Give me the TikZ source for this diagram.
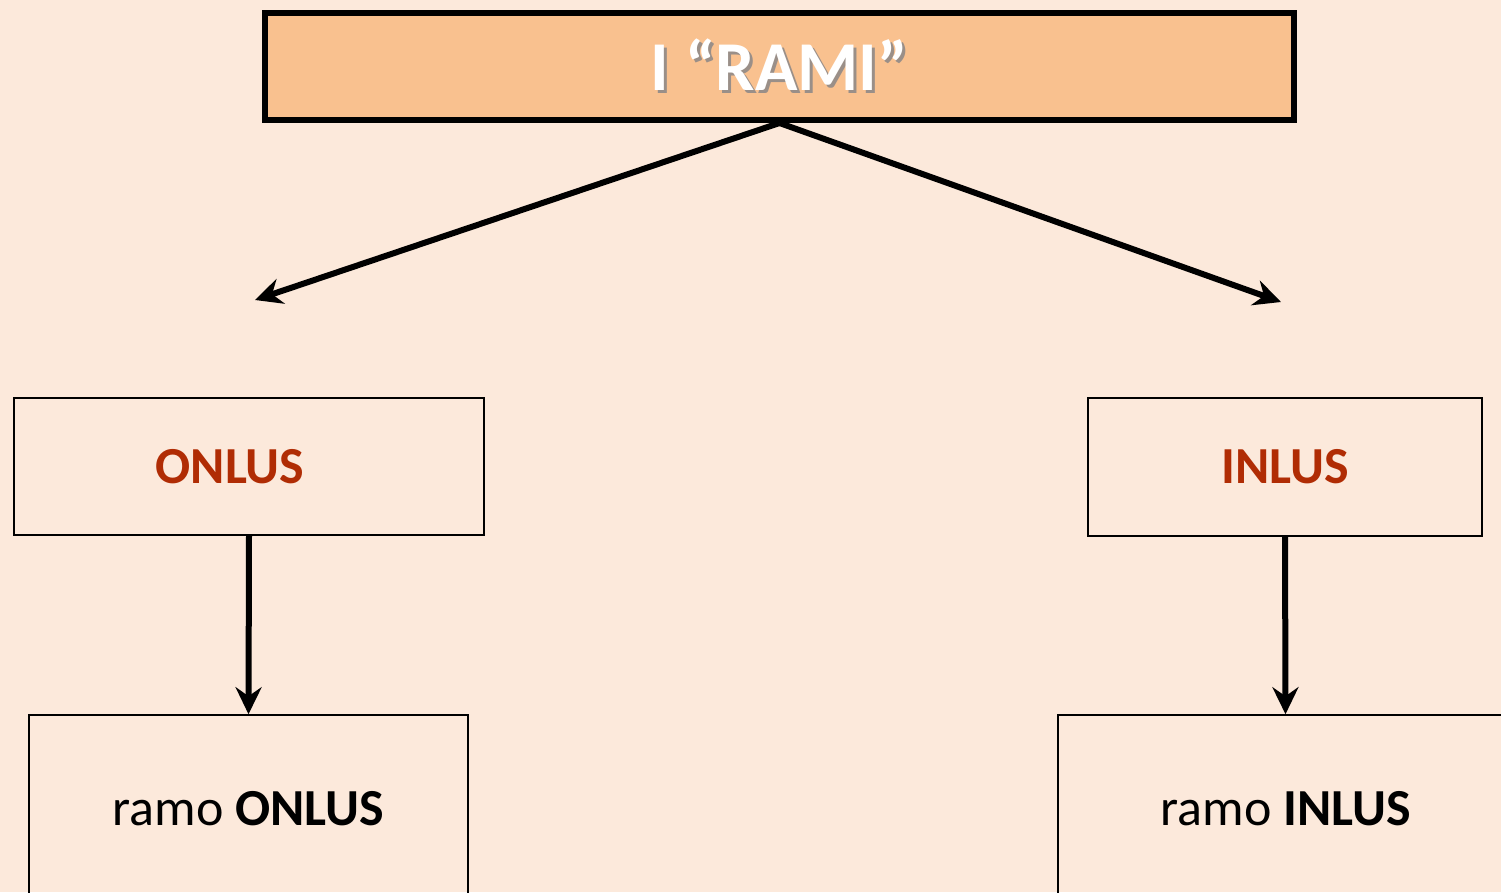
\documentclass[tikz,border=0pt]{standalone}
\usepackage{fontspec}
\setmainfont{Carlito}
\usetikzlibrary{arrows.meta}
\definecolor{pagebg}{HTML}{FCE9DB}
\definecolor{titlefill}{HTML}{F9C18F}
\definecolor{brickred}{HTML}{B02C04}
\definecolor{shadowgrey}{HTML}{9A8F88}
\tikzset{
  titlebox/.style={draw=black, line width=6pt, fill=titlefill, minimum width=1029pt, minimum height=107pt, inner sep=0pt},
  catbox/.style={draw=black, line width=1.6pt, inner sep=0pt, text=brickred, font=\fontsize{52}{60}\selectfont\bfseries},
  branchbox/.style={draw=black, line width=1.6pt, inner sep=0pt, font=\fontsize{52}{60}\selectfont},
  link/.style={line width=6pt, -{Stealth[length=27pt, width=26pt, inset=9pt]}},
}
% white lettering with a soft grey drop shadow
\newcommand{\shadowed}[1]{\makebox[0pt][l]{\kern3pt\raisebox{-3pt}{\color{shadowgrey}#1}}#1}
\begin{document}
\begin{tikzpicture}[x=1pt, y=-1pt]
  \useasboundingbox[fill=pagebg] (0,0) rectangle (1501,892);
  % title bar
  \node[titlebox, text=white, font=\fontsize{70}{80}\selectfont\bfseries] (title) at (779.5,66.5)
    {\raisebox{3pt}{\shadowed{I “RAMI”}}};
  % the two categories
  \node[catbox, minimum width=470pt, minimum height=137pt] (onlus) at (249,466.5) {\hspace*{-38pt}ONLUS};
  \node[catbox, minimum width=394pt, minimum height=138pt] (inlus) at (1285,467) {INLUS};
  % the branch boxes, running off the lower edge
  \node[branchbox, minimum width=439pt, minimum height=188pt] (ramoonlus) at (248.5,809) {ramo \textbf{ONLUS}};
  \node[branchbox, minimum width=455pt, minimum height=188pt] (ramoinlus) at (1285.5,809) {ramo \textbf{INLUS}};
  % free ends of the diagonal arrows
  \coordinate (leftend) at (255,300);
  \coordinate (rightend) at (1281,302);
  \draw[link] (title.south) -- (leftend);
  \draw[link] (title.south) -- (rightend);
  \draw[link] (onlus.south) -- (ramoonlus.north);
  \draw[link] (inlus.south) -- (ramoinlus.north);
\end{tikzpicture}
\end{document}
